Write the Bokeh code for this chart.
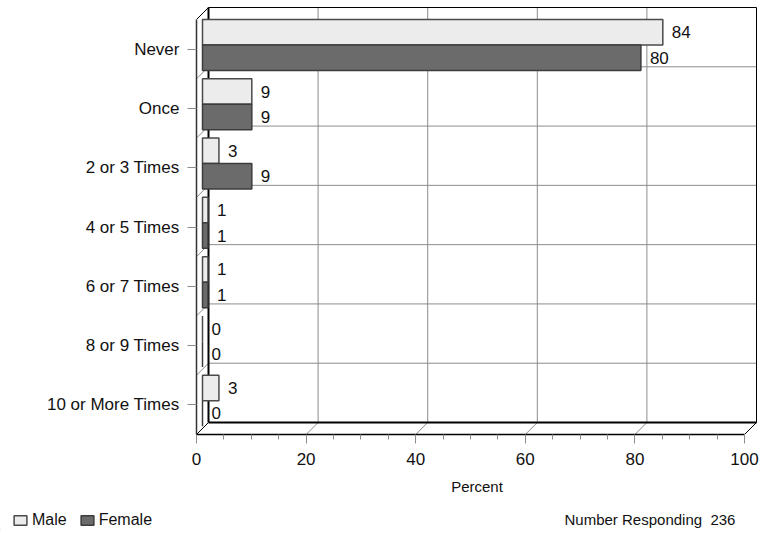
from bokeh.plotting import figure
from bokeh.layouts import column
from bokeh.models import FixedTicker, Range1d, Label, Legend, LegendItem, ColumnDataSource
from bokeh.embed import file_html
from bokeh.resources import INLINE
from bokeh.core.properties import value

# ---- data ----
categories = ["Never", "Once", "2 or 3 Times", "4 or 5 Times",
              "6 or 7 Times", "8 or 9 Times", "10 or More Times"]
male = [84, 9, 3, 1, 1, 0, 3]
female = [80, 9, 9, 1, 1, 0, 0]
x_ticks = [0, 20, 40, 60, 80, 100]
x_minor = [v for v in range(0, 101, 5) if v % 20 != 0]
series_names = ["Male", "Female"]
n_responding = 236

# ---- geometry (pixels) ----
W = 764
H_MAIN, H_FOOT = 502, 28
PX = 5.48           # pixels per percent
DXP, DYP = 12, 12   # depth offset of the back wall
frame_left = 196
front_top = 19
front_bottom = 434
frame_top = front_top - DYP - 1
n = len(categories)
PY = (front_bottom - front_top) / n
dx = DXP / PX
dy = DYP / PY
xmax = 100 + dx + 1.0 / PX
ymax = n + dy + 1.0 / PY
frame_w = 100 * PX + DXP + 1
min_right = int(round(W - frame_left - frame_w))

FONT = value("Liberation Sans")
GRID = "#8c8c8c"
MALE_FILL, MALE_LINE = "#ececec", "#4a4a4a"
FEM_FILL, FEM_LINE = "#6b6b6b", "#3c3c3c"

p = figure(width=W, height=H_MAIN, output_backend="svg", toolbar_location=None,
           x_range=Range1d(0, xmax), y_range=Range1d(0, ymax),
           min_border_left=frame_left, min_border_right=min_right,
           min_border_top=frame_top, min_border_bottom=H_MAIN - front_bottom)
p.frame_align = False
p.outline_line_color = None
p.xgrid.visible = False
p.ygrid.visible = False

# ---- back wall grid ----
inner = [v for v in x_ticks if 0 < v < 100]
p.segment(x0=[v + dx for v in inner], y0=[dy] * len(inner),
          x1=[v + dx for v in inner], y1=[n + dy] * len(inner),
          line_color=GRID, line_width=1)
ks = list(range(1, n))
p.segment(x0=[dx] * len(ks), y0=[k + dy for k in ks],
          x1=[100 + dx] * len(ks), y1=[k + dy for k in ks],
          line_color=GRID, line_width=1)
# left wall diagonals
p.segment(x0=[0] * len(ks), y0=ks, x1=[dx] * len(ks), y1=[k + dy for k in ks],
          line_color=GRID, line_width=1)
# floor diagonals
p.segment(x0=inner, y0=[0] * len(inner), x1=[v + dx for v in inner], y1=[dy] * len(inner),
          line_color=GRID, line_width=1)
# back wall borders
p.segment(x0=[dx, 100 + dx], y0=[n + dy, dy], x1=[100 + dx, 100 + dx], y1=[n + dy, n + dy],
          line_color="black", line_width=1)
p.segment(x0=[dx, dx], y0=[dy, dy], x1=[dx, 100 + dx], y1=[n + dy, dy],
          line_color="black", line_width=2)
# corner diagonals
p.segment(x0=[0, 0, 100], y0=[0, n, 0], x1=[dx, dx, 100 + dx], y1=[dy, n + dy, dy],
          line_color="black", line_width=1)

# ---- bars ----
bh = 0.43
pos = [n - 1 - i for i in range(n)]
off = 6.0 / PX
src = ColumnDataSource(dict(
    ym=[k + 1 - bh / 2 for k in pos],
    yf=[k + 1 - 1.5 * bh for k in pos],
    left=[off] * n,
    rm=[v + off for v in male],
    rf=[v + off for v in female],
    lm=[str(v) for v in male],
    lf=[str(v) for v in female],
    tm=[v + off + 9.0 / PX for v in male],
    tf=[v + off + 9.0 / PX for v in female],
))
p.hbar(y="ym", left="left", right="rm", height=bh, source=src,
       fill_color=MALE_FILL, line_color=MALE_LINE, line_width=1.5)
p.hbar(y="yf", left="left", right="rf", height=bh, source=src,
       fill_color=FEM_FILL, line_color=FEM_LINE, line_width=1.5)
for xc, yc, tc in (("tm", "ym", "lm"), ("tf", "yf", "lf")):
    p.text(x=xc, y=yc, text=tc, source=src, text_font=FONT, text_font_size="17px",
           text_align="left", text_baseline="middle", text_color="#111111")

# ---- axes ----
xa = p.xaxis[0]
xa.ticker = FixedTicker(ticks=x_ticks, minor_ticks=x_minor)
xa.bounds = (0, 100)
xa.axis_label = "Percent"
xa.axis_label_text_font = "Liberation Sans"
xa.axis_label_text_font_size = "15px"
xa.axis_label_text_font_style = "normal"
xa.axis_label_text_color = "#111111"
xa.axis_label_standoff = 10
xa.major_label_text_font = "Liberation Sans"
xa.major_label_text_font_size = "17px"
xa.major_label_text_color = "#111111"
xa.major_label_standoff = 9
xa.major_tick_in = 0
xa.major_tick_out = 9
xa.minor_tick_in = 0
xa.minor_tick_out = 5
xa.major_tick_line_color = GRID
xa.minor_tick_line_color = GRID
xa.axis_line_color = "black"
xa.axis_line_width = 1.5

ya = p.yaxis[0]
ya.ticker = FixedTicker(ticks=[k + 0.5 for k in pos], minor_ticks=[])
ya.major_label_overrides = {k + 0.5: c for k, c in zip(pos, categories)}
ya.bounds = (0, n)
ya.major_label_text_font = "Liberation Sans"
ya.major_label_text_font_size = "17px"
ya.major_label_text_color = "#111111"
ya.major_label_standoff = 8
ya.major_tick_in = 0
ya.major_tick_out = 9
ya.minor_tick_out = 0
ya.major_tick_line_color = GRID
ya.axis_line_color = "#333333"
ya.axis_line_width = 1.5

# ---- footer: legend + respondents ----
f = figure(width=W, height=H_FOOT, output_backend="svg", toolbar_location=None,
           x_range=Range1d(0, W), y_range=Range1d(H_FOOT, 0),
           x_axis_location=None, y_axis_location=None,
           min_border_left=0, min_border_right=0, min_border_top=0, min_border_bottom=0)
f.frame_align = False
f.outline_line_color = None
f.xgrid.visible = False
f.ygrid.visible = False
# swatch renderers: their single mark lies far outside the visible range,
# so only the legend shows their style
lm = f.hbar(y=[5000], left=[-5000], right=[-4999], height=1,
            fill_color=MALE_FILL, line_color=MALE_LINE, line_width=1.5)
lf = f.hbar(y=[5000], left=[-5000], right=[-4999], height=1,
            fill_color=FEM_FILL, line_color=FEM_LINE, line_width=1.5)
legend = Legend(items=[LegendItem(label=series_names[0], renderers=[lm]),
                       LegendItem(label=series_names[1], renderers=[lf])],
                orientation="horizontal", location=(12, 1),
                glyph_width=16, glyph_height=12, label_standoff=4, spacing=12,
                padding=0, margin=0, label_height=16,
                label_text_font="Liberation Sans", label_text_font_size="16px",
                label_text_color="#111111",
                border_line_color=None, background_fill_alpha=0)
f.add_layout(legend)
f.add_layout(Label(x=564, y=17, text="Number Responding\u00a0 " + str(n_responding),
                   text_font="Liberation Sans", text_font_size="15px",
                   text_baseline="middle", text_color="#111111"))

layout = column(p, f, spacing=0)
open("out.html", "w").write(file_html(layout, INLINE))
